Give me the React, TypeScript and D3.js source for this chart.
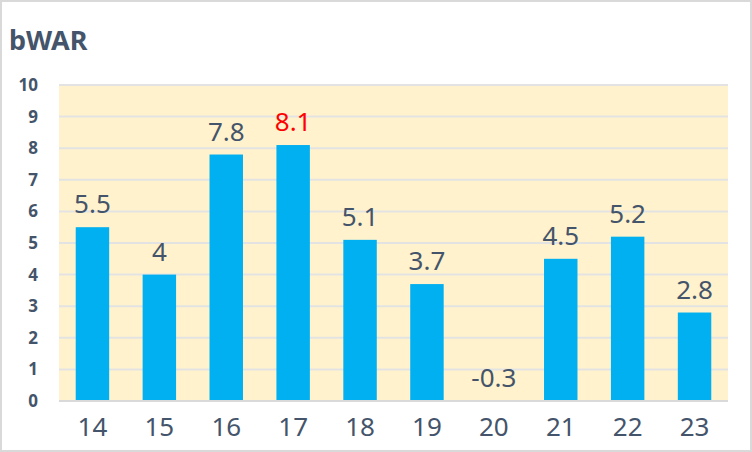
import { useEffect, useRef } from 'react';
import * as d3 from 'd3';

const seasons = ['14', '15', '16', '17', '18', '19', '20', '21', '22', '23'];
const bwar = [5.5, 4, 7.8, 8.1, 5.1, 3.7, -0.3, 4.5, 5.2, 2.8];
const yTicks = [0, 1, 2, 3, 4, 5, 6, 7, 8, 9, 10];
const highlight = '17';

const W = 752;
const H = 452;
const FONT = '"Noto Sans", "Open Sans", sans-serif';
const TEXT = '#44546A';

export default function App() {
  const svgRef = useRef<SVGSVGElement>(null);

  useEffect(() => {
    document.body.style.margin = '0';
    if (!svgRef.current) return;

    const svg = d3.select(svgRef.current);
    svg.selectAll('*').remove();

    const left = 59, right = 728, top = 85, bottom = 401;

    // chart frame
    svg.append('rect')
      .attr('x', 1).attr('y', 1)
      .attr('width', W - 2).attr('height', H - 2)
      .attr('fill', '#fff')
      .attr('stroke', '#D9D9D9')
      .attr('stroke-width', 2);

    svg.append('text')
      .attr('x', 9).attr('y', 50)
      .attr('font-family', FONT)
      .attr('font-size', 27)
      .attr('font-weight', 700)
      .attr('fill', TEXT)
      .text('bWAR');

    const x = d3.scaleBand<string>()
      .domain(seasons)
      .range([left, right])
      .paddingInner(0.5)
      .paddingOuter(0.25);

    const y = d3.scaleLinear()
      .domain([0, 10])
      .range([bottom, top]);

    // plot area
    svg.append('rect')
      .attr('x', left).attr('y', top)
      .attr('width', right - left).attr('height', bottom - top)
      .attr('fill', '#FFF2CC');

    // gridlines
    svg.append('g')
      .selectAll('line')
      .data(yTicks.filter(d => d > 0))
      .join('line')
      .attr('x1', left).attr('x2', right)
      .attr('y1', d => y(d)).attr('y2', d => y(d))
      .attr('stroke', '#E3E3E3')
      .attr('stroke-width', 2);

    // y labels
    svg.append('g')
      .selectAll('text')
      .data(yTicks)
      .join('text')
      .attr('x', 38)
      .attr('y', d => y(d))
      .attr('dy', '0.35em')
      .attr('text-anchor', 'end')
      .attr('font-family', FONT)
      .attr('font-size', 17)
      .attr('font-weight', 700)
      .attr('fill', TEXT)
      .text(d => d);

    const rows = seasons.map((s, i) => ({ s, v: bwar[i] }));

    // bars (negatives clipped at the axis floor)
    svg.append('g')
      .selectAll('rect')
      .data(rows.filter(d => d.v > 0))
      .join('rect')
      .attr('x', d => x(d.s)!)
      .attr('y', d => y(d.v))
      .attr('width', x.bandwidth())
      .attr('height', d => y(0) - y(d.v))
      .attr('fill', '#00B0F0');

    // axis line
    svg.append('line')
      .attr('x1', left).attr('x2', right)
      .attr('y1', bottom).attr('y2', bottom)
      .attr('stroke', '#D9D9D9')
      .attr('stroke-width', 2);

    // data labels
    svg.append('g')
      .selectAll('text')
      .data(rows)
      .join('text')
      .attr('x', d => x(d.s)! + x.bandwidth() / 2)
      .attr('y', d => y(Math.max(0, d.v)) - 14)
      .attr('text-anchor', 'middle')
      .attr('font-family', FONT)
      .attr('font-size', 26)
      .attr('fill', d => (d.s === highlight ? '#FF0000' : TEXT))
      .text(d => d.v);

    // x labels
    svg.append('g')
      .selectAll('text')
      .data(seasons)
      .join('text')
      .attr('x', d => x(d)! + x.bandwidth() / 2)
      .attr('y', 436)
      .attr('text-anchor', 'middle')
      .attr('font-family', FONT)
      .attr('font-size', 26)
      .attr('fill', TEXT)
      .text(d => d);
  }, []);

  return <svg ref={svgRef} width={W} height={H} style={{ display: 'block' }}></svg>;
}
